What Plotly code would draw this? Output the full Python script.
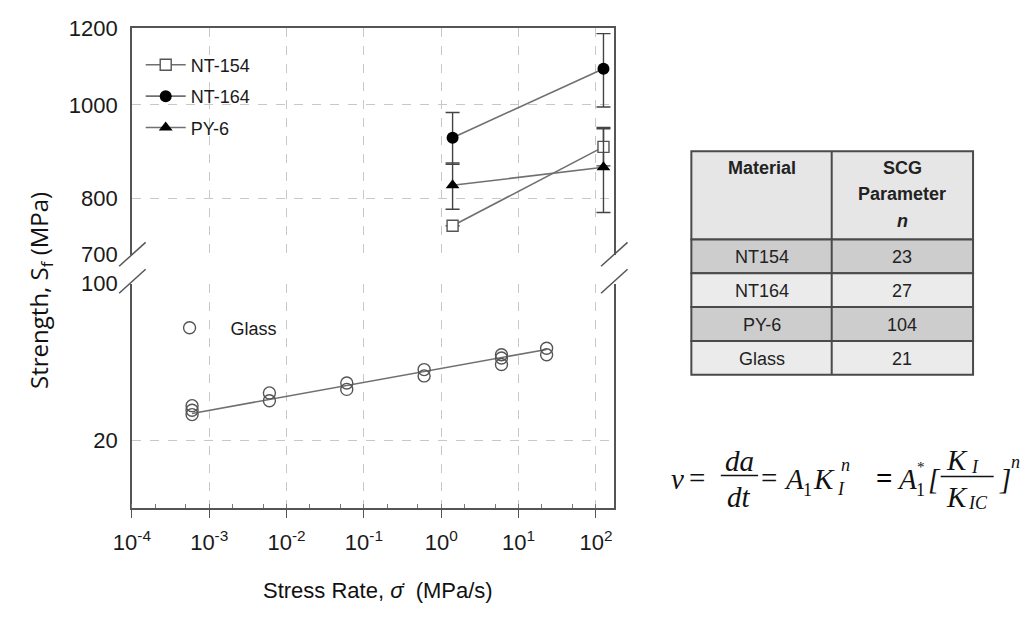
import numpy as np
import plotly.graph_objects as go

# ---------------- data ----------------
polymer_rate = [1.4, 125]
nt154_s = [750, 905]
nt154_err = [0, 40]
nt164_s = [925, 1090]
nt164_err = [57, 95]
py6_s = [826, 862]
py6_err_plus = [45, 86]
py6_err_minus = [46, 88]

glass_rate = [6e-4, 6e-4, 6e-4, 6e-3, 6e-3, 0.06, 0.06, 0.6, 0.6, 6, 6, 6, 23, 23]
glass_s = [28.6, 27.3, 26.1, 32.6, 30.1, 36.1, 33.8, 41.4, 38.8, 48.2, 46.6, 43.6, 51.5, 48.2]
glass_fit_rate = [6e-4, 23]
glass_fit_s = [26.4, 50.9]

x_tickvals = [1e-4, 1e-3, 1e-2, 1e-1, 1e0, 1e1, 1e2]
x_ticktext = ["10<sup>-4</sup>", "10<sup>-3</sup>", "10<sup>-2</sup>", "10<sup>-1</sup>",
              "10<sup>0</sup>", "10<sup>1</sup>", "10<sup>2</sup>"]
top_tickvals = [700, 800, 1000, 1200]
bottom_tickvals = [20, 100]

table_materials = ["NT154", "NT164", "PY-6", "Glass"]
table_n = ["23", "27", "104", "21"]

# ---------------- helpers ----------------
W, H = 1029, 620
def px(x):
    return x / W
def py(y):
    return 1 - y / H

AX = "#555555"
GRID = "#c8c8c8"
LINE = "#707070"
SANS = "Liberation Sans, Arial"
XTICKFONT = dict(family=SANS, size=22, color="#1a1a1a")
YTICKFONT = dict(family=SANS, size=22, color="#1a1a1a")

fig = go.Figure()

# glass (bottom panel)
fig.add_trace(go.Scatter(x=glass_fit_rate, y=glass_fit_s, mode="lines",
                         line=dict(color=LINE, width=1.6), showlegend=False,
                         xaxis="x", yaxis="y"))
fig.add_trace(go.Scatter(x=glass_rate, y=glass_s, mode="markers", name="Glass",
                         marker=dict(symbol="circle-open", size=12, color="#555555",
                                     line=dict(width=1.4, color="#555555")),
                         xaxis="x", yaxis="y", legend="legend2"))

# polymers (top panel)
err_style = dict(thickness=1.4, width=7, color="#444444")
fig.add_trace(go.Scatter(x=polymer_rate, y=nt154_s, mode="lines+markers", name="NT-154",
                         line=dict(color=LINE, width=1.6),
                         marker=dict(symbol="square", size=11, color="white",
                                     line=dict(color="#555555", width=1.4)),
                         error_y=dict(type="data", array=nt154_err, **err_style),
                         xaxis="x2", yaxis="y2", legendgroup="a"))
fig.add_trace(go.Scatter(x=polymer_rate, y=nt164_s, mode="lines+markers", name="NT-164",
                         line=dict(color=LINE, width=1.6),
                         marker=dict(symbol="circle", size=12, color="black"),
                         error_y=dict(type="data", array=nt164_err, **err_style),
                         xaxis="x2", yaxis="y2", legendgroup="b"))
fig.add_trace(go.Scatter(x=polymer_rate, y=py6_s, mode="lines+markers", name="PY-6",
                         line=dict(color=LINE, width=1.6),
                         marker=dict(symbol="triangle-up", size=12, color="black"),
                         error_y=dict(type="data", array=py6_err_plus, arrayminus=py6_err_minus, **err_style),
                         xaxis="x2", yaxis="y2", legendgroup="c"))

xdom = [px(115), px(606)]
xrange = [-4, np.log10(170)]
grid = dict(showgrid=True, gridcolor=GRID, griddash="dash", gridwidth=1, zeroline=False)

fig.update_layout(
    width=W, height=H, autosize=False,
    margin=dict(l=0, r=0, t=0, b=0),
    paper_bgcolor="white", plot_bgcolor="white",
    xaxis=dict(domain=xdom, type="log", range=xrange, anchor="y",
               tickvals=x_tickvals, ticktext=x_ticktext, tickfont=XTICKFONT,
               ticks="outside", ticklen=8, tickcolor=AX, tickwidth=1.2,
               ticklabelstandoff=6,
               showline=True, linecolor=AX, linewidth=1.6,
               minor=dict(ticks="inside", ticklen=4, tickcolor="#777777", showgrid=False),
               **grid),
    yaxis=dict(domain=[py(517), py(283)], type="log", range=[1, 2], anchor="x",
               tickvals=bottom_tickvals, ticktext=[str(v) for v in bottom_tickvals],
               tickfont=YTICKFONT, ticks="", ticklabelstandoff=8,
               showline=True, mirror=True, linecolor=AX, linewidth=1.6, **grid),
    xaxis2=dict(domain=xdom, type="log", range=xrange, anchor="y2", matches="x",
                side="top", tickvals=x_tickvals, showticklabels=False, ticks="",
                showline=True, linecolor=AX, linewidth=1.6, **grid),
    yaxis2=dict(domain=[py(253), py(17)], type="log", range=[np.log10(700), np.log10(1200)],
                anchor="x2", tickvals=top_tickvals, ticktext=[str(v) for v in top_tickvals],
                tickfont=YTICKFONT, ticks="", ticklabelstandoff=8,
                showline=True, mirror=True, linecolor=AX, linewidth=1.6, **grid),
    legend=dict(x=px(124), y=py(36), xanchor="left", yanchor="top",
                bgcolor="rgba(0,0,0,0)", font=dict(family=SANS, size=18, color="#1a1a1a"),
                tracegroupgap=5, itemwidth=40),
    legend2=dict(x=px(132), y=py(310), xanchor="left", yanchor="top",
                 bgcolor="rgba(0,0,0,0)", font=dict(family=SANS, size=18, color="#1a1a1a"),
                 itemwidth=72),
    showlegend=True,
)

shapes = []
annotations = []

def note(text, x, y, font, xanchor="center", yanchor="middle", **kw):
    annotations.append(dict(text=text, x=px(x), y=py(y), xref="paper", yref="paper",
                            xanchor=xanchor, yanchor=yanchor, showarrow=False, font=font,
                            borderpad=0, **kw))

# axis break marks
for xc in (115, 606):
    for yc in (253, 281):
        shapes.append(dict(type="line", xref="paper", yref="paper",
                           x0=px(xc - 13), y0=py(yc + 12), x1=px(xc + 14), y1=py(yc - 13),
                           line=dict(color=AX, width=1.5)))

# axis titles
note("Strength, S<sub>f</sub> (MPa)", 22, 290, dict(family="Open Sans", size=24, color="#111111"),
     textangle=-90)
note("Stress Rate, <i>\u03c3\u0307</i>  (MPa/s)", 248, 603, dict(family=SANS, size=22, color="#111111"),
     xanchor="left")

# ---------------- table ----------------
tx0, tx1, tmid = 685, 972, 828
header_top, header_h, row_h = 145, 92, 35.25
dark, light = "#cdcdcd", "#ebebeb"
TBORDER = dict(color="#4a4a4a", width=2)
tfont = dict(family=SANS, size=18, color="#222222")

shapes.append(dict(type="rect", xref="paper", yref="paper",
                   x0=px(tx0), x1=px(tx1), y0=py(header_top + header_h), y1=py(header_top),
                   fillcolor="#e6e6e6", line=TBORDER, layer="below"))
for i, (m, n) in enumerate(zip(table_materials, table_n)):
    y0 = header_top + header_h + i * row_h
    y1 = y0 + row_h
    shapes.append(dict(type="rect", xref="paper", yref="paper",
                       x0=px(tx0), x1=px(tx1), y0=py(y1), y1=py(y0),
                       fillcolor=dark if i % 2 == 0 else light, line=TBORDER, layer="below"))
    note(m, (tx0 + tmid) / 2, (y0 + y1) / 2 + 1, tfont)
    note(n, (tmid + tx1) / 2, (y0 + y1) / 2 + 1, tfont)
table_bottom = header_top + header_h + len(table_materials) * row_h
shapes.append(dict(type="line", xref="paper", yref="paper",
                   x0=px(tmid), x1=px(tmid), y0=py(table_bottom), y1=py(header_top), line=TBORDER))

note("<b>Material</b>", (tx0 + tmid) / 2, 163, tfont)
note("<b>SCG</b>", (tmid + tx1) / 2, 163, tfont)
note("<b>Parameter</b>", (tmid + tx1) / 2, 190, tfont)
note("<b><i>n</i></b>", (tmid + tx1) / 2, 218, tfont)

# ---------------- equation ----------------
SERIF = "Liberation Serif, Times New Roman"
EQF = dict(family=SERIF, size=29, color="#111111")
SUBF = dict(family=SERIF, size=18, color="#111111")
EQB = dict(family=SERIF, size=29, color="#000000")

def eqL(text, x, y, font=EQF):
    note(text, x, y, font, xanchor="left")

eqL("<i>v</i>", 663, 487)
eqL("=", 682, 486)
note("<i>da</i>", 734, 468, EQF)
note("<i>dt</i>", 734, 505, EQF)
shapes.append(dict(type="line", xref="paper", yref="paper", x0=px(715), x1=px(753),
                   y0=py(483), y1=py(483), line=dict(color="#111111", width=1.3)))
eqL("=", 755, 486)
eqL("<i>A</i>", 778, 487)
eqL("1", 798, 498, SUBF)
eqL("<i>K</i>", 808, 487)
eqL("<i>n</i>", 836, 472, SUBF)
eqL("<i>I</i>", 832, 497, SUBF)
eqL("<b>=</b>", 872, 486, EQB)
eqL("<i>A</i>", 893, 487)
eqL("1", 913, 498, SUBF)
eqL("*", 914, 474, dict(family=SERIF, size=15, color="#111111"))
eqL("<i>[</i>", 925, 487)
eqL("<i>K</i>", 943, 467)
eqL("<i>I</i>", 969, 474, SUBF)
shapes.append(dict(type="line", xref="paper", yref="paper", x0=px(939), x1=px(993),
                   y0=py(484), y1=py(484), line=dict(color="#111111", width=1.3)))
eqL("<i>K</i>", 943, 505)
eqL("<i>IC</i>", 966, 512, SUBF)
eqL("<i>]</i>", 997, 487)
eqL("<i>n</i>", 1010, 469, SUBF)

fig.update_layout(shapes=shapes, annotations=annotations)
fig.write_html("out.html")
